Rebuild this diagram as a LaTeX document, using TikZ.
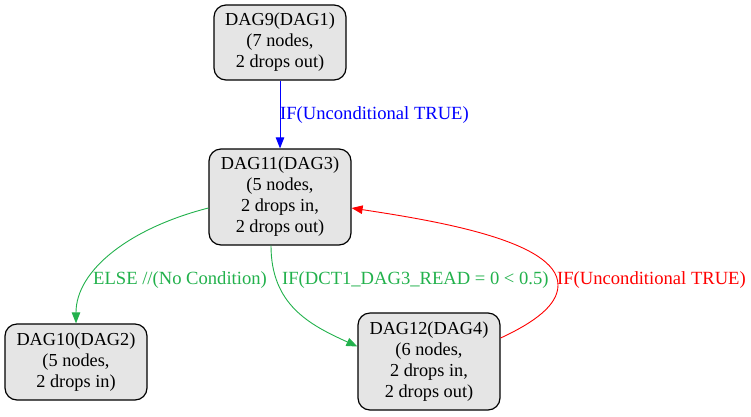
\documentclass[tikz,border=0pt]{standalone}
\usepackage{fontspec}
\setmainfont{Liberation Serif}
\usetikzlibrary{arrows.meta}
\definecolor{dagfill}{RGB}{229,229,229}
\definecolor{dgreen}{RGB}{34,177,76}
\begin{document}
\begin{tikzpicture}[x=1pt,y=-1pt,
  dagbox/.style={draw=black,fill=dagfill,rounded corners=12pt,line width=1.2pt,
    align=center,inner sep=0pt,font=\fontsize{18.3}{21}\selectfont},
  edge/.style={line width=0.9pt,-{Triangle[length=11pt,width=8.5pt]}},
  elabel/.style={font=\fontsize{18.6}{21}\selectfont,inner sep=0pt}]
\useasboundingbox (0,0) rectangle (751,416);
\node[dagbox,minimum width=132pt,minimum height=75pt] (n9) at (280,42.5) {DAG9(DAG1)\\(7 nodes,\\2 drops out)};
\node[dagbox,minimum width=142pt,minimum height=96pt] (n11) at (280,197) {DAG11(DAG3)\\(5 nodes,\\2 drops in,\\2 drops out)};
\node[dagbox,minimum width=142pt,minimum height=76pt] (n10) at (76,362) {DAG10(DAG2)\\(5 nodes,\\2 drops in)};
\node[dagbox,minimum width=142pt,minimum height=97pt] (n12) at (429,361.5) {DAG12(DAG4)\\(6 nodes,\\2 drops in,\\2 drops out)};
% blue
\draw[edge,blue] (n9.south) -- (n11.north);
\node[elabel,blue,anchor=west] (l1) at (280,115) {IF(Unconditional TRUE)};
% green else
\draw[edge,dgreen] ([yshift=-11pt]n11.west) .. controls (130,228) and (76,270) .. (n10.north);
\node[elabel,dgreen,anchor=west] (l2) at (93,280) {ELSE //(No Condition)};
% green if
\draw[edge,dgreen] ([xshift=-9pt]n11.south) .. controls (271,305) and (310,325) .. ([yshift=15pt]n12.west);
\node[elabel,dgreen,anchor=west] (l3) at (282,280) {IF(DCT1\_DAG3\_READ = 0 < 0.5)};
% red
\coordinate (rc) at (558,285);
\draw[edge,red] ([yshift=23.5pt]n12.east) .. controls (535,322) and (558,305) .. (rc) .. controls (558,240) and (430,220) .. ([yshift=-11pt]n11.east);
\node[elabel,red,anchor=west] (l4) at (557,280) {IF(Unconditional TRUE)};
\end{tikzpicture}
\end{document}
